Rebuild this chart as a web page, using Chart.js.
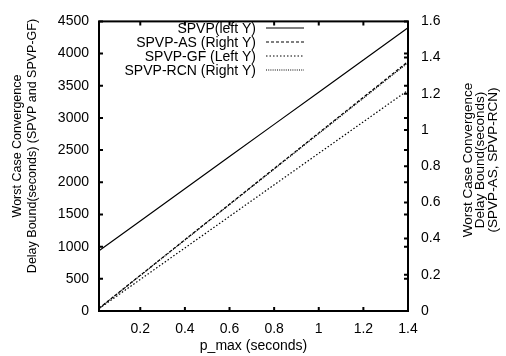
<!DOCTYPE html>
<html>
<head>
<meta charset="utf-8">
<script src="https://cdn.jsdelivr.net/npm/chart.js@4/dist/chart.umd.min.js"></script>
<style>
  html, body { margin: 0; padding: 0; background: #fff; }
  #wrap { width: 506px; height: 356px; }
</style>
</head>
<body>
<div id="wrap"><canvas id="c"></canvas></div>
<script>
// p_max values (seconds) where the series are sampled
const pMax = [0.015, 0.2, 0.4, 0.6, 0.8, 1.0, 1.2, 1.4];

// left Y series
const spvp = [937, 1400, 1900, 2400, 2900, 3400, 3900, 4400];
const spvpGF = [37, 490, 980, 1470, 1960, 2450, 2940, 3430];

// right Y series
const spvpAS = [0.015, 0.197, 0.394, 0.59, 0.787, 0.984, 1.181, 1.378];
const spvpRCN = [0.014, 0.196, 0.392, 0.588, 0.784, 0.98, 1.176, 1.372];

const xTicks = [0.2, 0.4, 0.6, 0.8, 1, 1.2, 1.4];
const leftTitle = ['Worst Case Convergence', 'Delay Bound(seconds) (SPVP and SPVP-GF)'];
const rightTitle = ['Worst Case Convergence', 'Delay Bound(seconds)', '(SPVP-AS, SPVP-RCN)'];

const FONT = '"Liberation Sans", Arial, Helvetica, sans-serif';
const pts = ys => pMax.map((x, i) => ({ x: x, y: ys[i] }));
const fmt = v => String(parseFloat(Number(v).toFixed(2)));

// frame with inward ticks, gnuplot style
const framePlugin = {
  id: 'frame',
  afterDatasetsDraw(chart) {
    const { ctx, chartArea: a, scales } = chart;
    const len = 4;
    ctx.save();
    ctx.strokeStyle = '#000';
    ctx.lineWidth = 2;
    ctx.beginPath();
    scales.x.ticks.forEach(t => {
      const px = scales.x.getPixelForValue(t.value);
      ctx.moveTo(px, a.bottom); ctx.lineTo(px, a.bottom - len);
      ctx.moveTo(px, a.top); ctx.lineTo(px, a.top + len);
    });
    scales.y.ticks.forEach(t => {
      const py = scales.y.getPixelForValue(t.value);
      ctx.moveTo(a.left, py); ctx.lineTo(a.left + len, py);
      ctx.moveTo(a.right, py); ctx.lineTo(a.right - len, py);
    });
    scales.y2.ticks.forEach(t => {
      const py = scales.y2.getPixelForValue(t.value);
      ctx.moveTo(a.right, py); ctx.lineTo(a.right - len, py);
    });
    ctx.stroke();
    ctx.strokeRect(a.left, a.top, a.right - a.left, a.bottom - a.top);
    ctx.restore();
  }
};

// legend: right aligned text, line sample on the right
const legendPlugin = {
  id: 'gpLegend',
  afterDatasetsDraw(chart) {
    const { ctx } = chart;
    const textRight = 256, x0 = 266, x1 = 304, y0 = 28, step = 14;
    ctx.save();
    ctx.font = '14px ' + FONT;
    ctx.fillStyle = '#000';
    ctx.textAlign = 'right';
    ctx.textBaseline = 'alphabetic';
    chart.data.datasets.forEach((ds, i) => {
      const y = y0 + i * step;
      ctx.fillText(ds.label, textRight, y + 5);
      ctx.beginPath();
      ctx.setLineDash(ds.borderDash || []);
      ctx.lineWidth = ds.borderWidth;
      ctx.strokeStyle = ds.borderColor;
      ctx.moveTo(x0, y); ctx.lineTo(x1, y);
      ctx.stroke();
    });
    ctx.restore();
  }
};

// y axis titles, both read bottom to top
const titlesPlugin = {
  id: 'titles',
  afterDraw(chart) {
    const { ctx } = chart;
    ctx.save();
    ctx.fillStyle = '#000';
    ctx.textAlign = 'center';
    ctx.textBaseline = 'middle';
    const draw = (lines, x, y, gap, size) => {
      ctx.save();
      ctx.font = size + 'px ' + FONT;
      ctx.translate(x, y);
      ctx.rotate(-Math.PI / 2);
      lines.forEach((s, i) => ctx.fillText(s, 0, i * gap));
      ctx.restore();
    };
    draw(leftTitle, 18, 146, 15, 12.5);
    draw(rightTitle, 468, 160, 12.5, 13.5);
    ctx.restore();
  }
};

new Chart(document.getElementById('c'), {
  type: 'line',
  data: {
    datasets: [
      { label: 'SPVP(left Y)', data: pts(spvp), yAxisID: 'y',
        borderColor: '#000', borderWidth: 1.2, borderDash: [] },
      { label: 'SPVP-AS (Right Y)', data: pts(spvpAS), yAxisID: 'y2',
        borderColor: '#000', borderWidth: 1.2, borderDash: [3, 2] },
      { label: 'SPVP-GF (Left Y)', data: pts(spvpGF), yAxisID: 'y',
        borderColor: '#000', borderWidth: 1.2, borderDash: [1.5, 2] },
      { label: 'SPVP-RCN (Right Y)', data: pts(spvpRCN), yAxisID: 'y2',
        borderColor: '#000', borderWidth: 1.2, borderDash: [1, 1.2] }
    ]
  },
  options: {
    responsive: true,
    maintainAspectRatio: false,
    animation: false,
    layout: { padding: { top: 16, left: 0, right: 0, bottom: 0 } },
    elements: { point: { radius: 0 }, line: { tension: 0 } },
    plugins: { legend: { display: false }, tooltip: { enabled: false } },
    scales: {
      x: {
        type: 'linear', min: 0.015, max: 1.4,
        afterBuildTicks: s => { s.ticks = xTicks.map(v => ({ value: v })); },
        afterFit: s => { s.height = 45; },
        grid: { display: false, drawTicks: false },
        border: { display: false },
        ticks: { color: '#000', font: { family: FONT, size: 14 }, padding: 10,
                 maxRotation: 0, callback: fmt },
        title: { display: true, text: 'p_max (seconds)', color: '#000',
                 font: { family: FONT, size: 14 }, padding: { top: 0, bottom: 1 } }
      },
      y: {
        type: 'linear', position: 'left', min: 0, max: 4500,
        ticks: { stepSize: 500, color: '#000', font: { family: FONT, size: 14 },
                 padding: 10, callback: fmt },
        afterFit: s => { s.width = 99; },
        grid: { display: false, drawTicks: false },
        border: { display: false }
      },
      y2: {
        type: 'linear', position: 'right', min: 0, max: 1.6,
        ticks: { stepSize: 0.2, color: '#000', font: { family: FONT, size: 14 },
                 padding: 13, callback: fmt },
        afterFit: s => { s.width = 98; },
        grid: { display: false, drawTicks: false },
        border: { display: false }
      }
    }
  },
  plugins: [framePlugin, legendPlugin, titlesPlugin]
});
</script>
</body>
</html>
